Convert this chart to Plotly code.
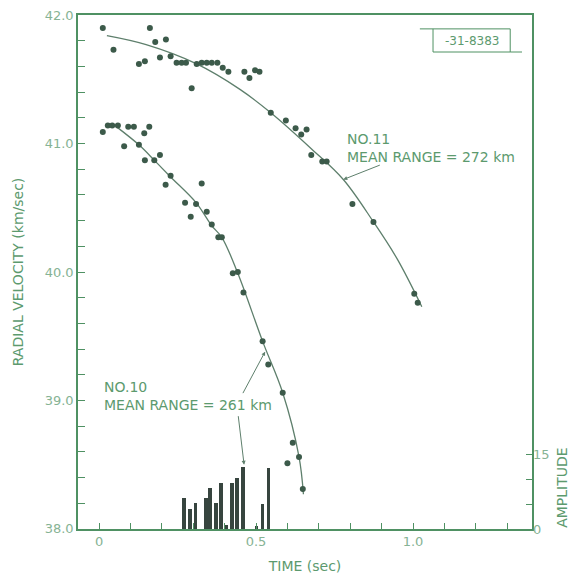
import plotly.graph_objects as go

# ---------------------------------------------------------------------------
# Data
# ---------------------------------------------------------------------------
# NO.11 (mean range 272 km) measured points
t11 = [0.012, 0.046, 0.127, 0.146, 0.162, 0.179, 0.194, 0.213, 0.228, 0.247,
       0.263, 0.277, 0.295, 0.311, 0.327, 0.343, 0.359, 0.377, 0.394, 0.412,
       0.463, 0.479, 0.497, 0.511, 0.547, 0.595, 0.626, 0.644, 0.661, 0.676,
       0.711, 0.725, 0.807, 0.874, 1.004, 1.015]
v11 = [41.90, 41.73, 41.62, 41.64, 41.90, 41.79, 41.67, 41.81, 41.68, 41.63,
       41.63, 41.63, 41.43, 41.62, 41.63, 41.63, 41.63, 41.63, 41.59, 41.56,
       41.56, 41.51, 41.57, 41.56, 41.24, 41.18, 41.12, 41.07, 41.11, 40.91,
       40.86, 40.86, 40.53, 40.39, 39.83, 39.76]
# NO.11 fitted curve
fit11_t = [0.025, 0.15, 0.311, 0.45, 0.547, 0.676, 0.778, 0.874, 0.95, 1.028]
fit11_v = [41.84, 41.77, 41.62, 41.42, 41.24, 40.96, 40.72, 40.39, 40.10, 39.73]

# NO.10 (mean range 261 km) measured points
t10 = [0.012, 0.028, 0.042, 0.060, 0.080, 0.093, 0.111, 0.127, 0.144, 0.160,
       0.146, 0.176, 0.194, 0.212, 0.228, 0.327, 0.274, 0.309, 0.292, 0.343,
       0.359, 0.380, 0.391, 0.426, 0.442, 0.460, 0.521, 0.539, 0.585, 0.617,
       0.637, 0.600, 0.649]
v10 = [41.09, 41.14, 41.14, 41.14, 40.98, 41.13, 41.13, 40.99, 41.08, 41.13,
       40.87, 40.87, 40.91, 40.68, 40.75, 40.69, 40.54, 40.53, 40.43, 40.47,
       40.37, 40.27, 40.27, 39.99, 40.00, 39.84, 39.46, 39.28, 39.06, 38.67,
       38.56, 38.51, 38.31]
# NO.10 fitted curve
fit10_t = [0.056, 0.127, 0.176, 0.228, 0.309, 0.359, 0.391, 0.442, 0.521,
           0.585, 0.637, 0.651]
fit10_v = [41.13, 40.99, 40.87, 40.74, 40.54, 40.36, 40.27, 39.99, 39.46,
           39.06, 38.56, 38.27]

# Amplitude bars
bar_t = [0.271, 0.290, 0.308, 0.340, 0.354, 0.373, 0.389, 0.404, 0.423,
         0.440, 0.458, 0.502, 0.521, 0.539]
bar_amp = [6.2, 4.1, 5.2, 6.2, 8.2, 5.2, 9.2, 0.9, 9.2, 10.2, 12.4, 0.7,
           5.1, 12.2]

# Axis ticks
vel_ticks = [38.0, 39.0, 40.0, 41.0, 42.0]
time_ticks = [0, 0.5, 1.0]
time_labels = ['0', '0.5', '1.0']
amp_ticks = [0, 15]

# ---------------------------------------------------------------------------
GREEN = '#4f9163'
TXT = '#5c9a6e'
LIGHT = '#86b394'
DOT = '#3c5a4a'
CURVE = '#5e7f6c'
FONT = 'DejaVu Sans'

fig = go.Figure()
fig.add_trace(go.Bar(
    x=bar_t, y=bar_amp, yaxis='y2', width=0.011,
    marker=dict(color='#37453f', line=dict(width=0)), showlegend=False
))
fig.add_trace(go.Scatter(
    x=fit11_t, y=fit11_v, mode='lines', line=dict(color=CURVE, width=1.3, shape='spline'),
    showlegend=False
))
fig.add_trace(go.Scatter(
    x=fit10_t, y=fit10_v, mode='lines', line=dict(color=CURVE, width=1.3, shape='spline'),
    showlegend=False
))
fig.add_trace(go.Scatter(
    x=t11, y=v11, mode='markers', marker=dict(color=DOT, size=6), showlegend=False
))
fig.add_trace(go.Scatter(
    x=t10, y=v10, mode='markers', marker=dict(color=DOT, size=6), showlegend=False
))

# Annotations ----------------------------------------------------------------
ann = [
    dict(xref='paper', yref='paper', x=0.588, y=0.778, xanchor='left', yanchor='top',
         align='left', showarrow=False, text='NO.11<br>MEAN RANGE = 272 km',
         font=dict(size=14, color=TXT, family=FONT)),
    dict(xref='paper', yref='paper', x=0.053, y=0.296, xanchor='left', yanchor='top',
         align='left', showarrow=False, text='NO.10<br>MEAN RANGE = 261 km',
         font=dict(size=14, color=TXT, family=FONT)),
    dict(xref='x', yref='y', x=0.778, y=40.72, ax=38, ay=-15, text='',
         showarrow=True, arrowhead=2, arrowsize=0.8, arrowwidth=1, arrowcolor=CURVE),
    dict(xref='x', yref='y', x=0.529, y=39.38, ax=-23, ay=43, text='',
         showarrow=True, arrowhead=2, arrowsize=0.8, arrowwidth=1, arrowcolor=CURVE),
    dict(xref='x', yref='y', x=0.462, y=38.50, ax=-6, ay=-50, text='',
         showarrow=True, arrowhead=2, arrowsize=0.8, arrowwidth=1, arrowcolor=CURVE),
    dict(xref='paper', yref='paper', x=0.867, y=0.950, xanchor='center', yanchor='middle',
         showarrow=False, text='-31-8383', font=dict(size=12, color=TXT, family=FONT)),
    dict(xref='paper', yref='paper', x=1.066, y=0.08, xanchor='center', yanchor='middle',
         showarrow=False, text='AMPLITUDE', textangle=-90,
         font=dict(size=14, color=TXT, family=FONT)),
]

shapes = [
    dict(type='rect', xref='paper', yref='paper', x0=0.782, x1=0.952, y0=0.928,
         y1=0.973, line=dict(color=GREEN, width=1)),
    dict(type='line', xref='paper', yref='paper', x0=0.753, x1=0.782, y0=0.973,
         y1=0.973, line=dict(color=GREEN, width=1)),
    dict(type='line', xref='paper', yref='paper', x0=0.952, x1=0.978, y0=0.928,
         y1=0.928, line=dict(color=GREEN, width=1)),
]

# page body adds an 8px offset, so the figure is made 8px smaller
fig.update_layout(
    width=571, height=572,
    margin=dict(l=70, r=47, t=7, b=51),
    paper_bgcolor='white', plot_bgcolor='white',
    font=dict(family=FONT, color=TXT),
    bargap=0,
    annotations=ann, shapes=shapes,
    xaxis=dict(
        range=[-0.067, 1.379], tickvals=time_ticks, ticktext=time_labels,
        ticks='inside', ticklen=6, tickcolor=GREEN, showgrid=False, zeroline=False,
        showline=True, linecolor=GREEN, linewidth=1.5, mirror=True, automargin=False,
        tickfont=dict(size=13, color=LIGHT),
        minor=dict(dtick=0.1, tick0=0, ticks='inside', ticklen=6, tickcolor=GREEN),
        title=dict(text='TIME (sec)', font=dict(size=14, color=TXT), standoff=13),
    ),
    yaxis=dict(
        range=[37.999, 42.001], tickvals=vel_ticks, tickformat='.1f',
        ticklabeloverflow='allow',
        ticks='inside', ticklen=7, tickcolor=GREEN, showgrid=False, zeroline=False,
        showline=True, linecolor=GREEN, linewidth=1.5, mirror=True, automargin=False,
        tickfont=dict(size=13, color=LIGHT),
        minor=dict(dtick=0.2, tick0=38, ticks='inside', ticklen=7, tickcolor=GREEN),
        title=dict(text='RADIAL VELOCITY (km/sec)', font=dict(size=14, color=TXT), standoff=18),
    ),
    yaxis2=dict(
        overlaying='y', side='right', range=[0, 102.9], tickvals=amp_ticks,
        ticks='inside', ticklen=6, tickcolor=GREEN, showgrid=False, zeroline=False,
        showline=False, automargin=False, tickfont=dict(size=13, color=LIGHT),
        minor=dict(tickvals=[5, 10], ticks='inside', ticklen=6, tickcolor=GREEN),
    ),
)

fig.write_html("out.html")
